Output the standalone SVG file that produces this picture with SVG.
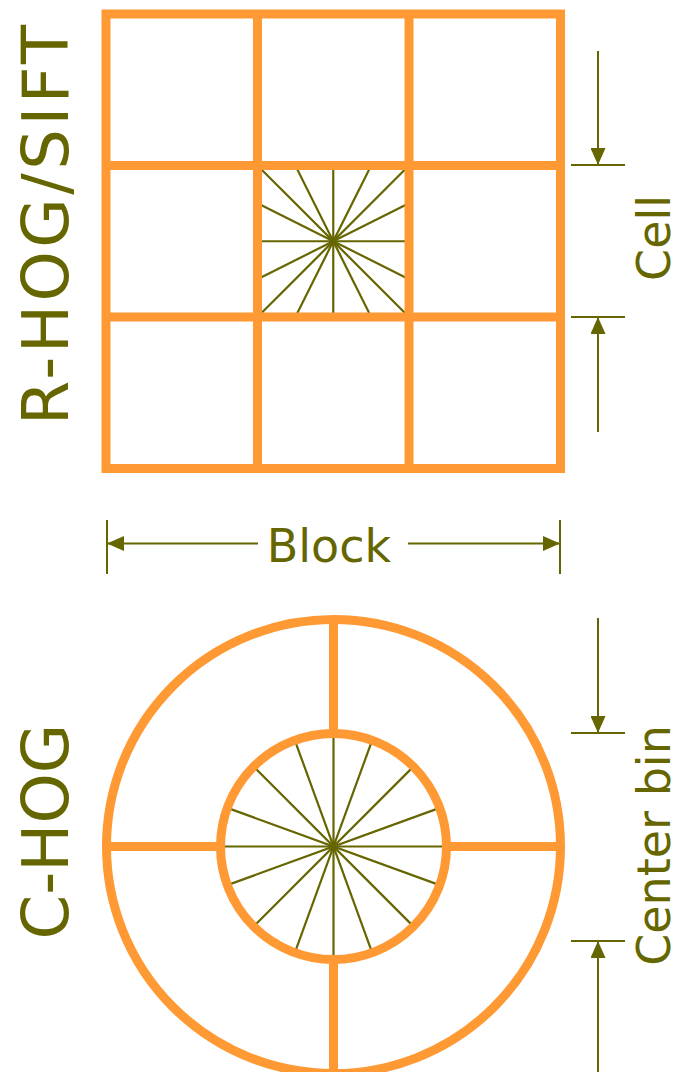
<svg xmlns="http://www.w3.org/2000/svg" width="674" height="1072" viewBox="0 0 674 1072">
  <style>
    .frame { fill: none; stroke: #FF9933; stroke-width: 9; }
    .spoke { stroke: #666600; stroke-width: 2.2; fill: none; }
    .dim { stroke: #666600; stroke-width: 2; fill: none; }
    .lbl { font-family: "DejaVu Sans", sans-serif; fill: #666600; }
  </style>
  <defs>
    <marker id="ah" markerUnits="userSpaceOnUse" markerWidth="17" markerHeight="15" refX="17" refY="7.5" orient="auto" viewBox="0 0 17 15">
      <path d="M0,0 L17,7.5 L0,15 z" fill="#666600"/>
    </marker>
  </defs>
  <rect width="674" height="1072" fill="#ffffff"/>

  <g id="rhog">
    <g id="rhog-spokes" transform="translate(333.25,241.25)">
      <line class="spoke" x1="0" y1="-75.75" x2="0" y2="75.75"/>
      <line class="spoke" x1="-75.75" y1="0" x2="75.75" y2="0"/>
      <line class="spoke" x1="-75.75" y1="-75.75" x2="75.75" y2="75.75"/>
      <line class="spoke" x1="75.75" y1="-75.75" x2="-75.75" y2="75.75"/>
      <line class="spoke" x1="-37.9" y1="-75.75" x2="37.9" y2="75.75"/>
      <line class="spoke" x1="37.9" y1="-75.75" x2="-37.9" y2="75.75"/>
      <line class="spoke" x1="-75.75" y1="-37.9" x2="75.75" y2="37.9"/>
      <line class="spoke" x1="75.75" y1="-37.9" x2="-75.75" y2="37.9"/>
    </g>
    <g id="rhog-grid">
      <rect class="frame" x="106" y="14" width="454.5" height="454.5"/>
      <line class="frame" x1="257.5" y1="14" x2="257.5" y2="468.5"/>
      <line class="frame" x1="409" y1="14" x2="409" y2="468.5"/>
      <line class="frame" x1="106" y1="165.5" x2="560.5" y2="165.5"/>
      <line class="frame" x1="106" y1="317" x2="560.5" y2="317"/>
    </g>
  </g>

  <g id="chog">
    <g id="chog-spokes" transform="translate(333.5,846.5)">
      <line class="spoke" x1="0" y1="-113" x2="0" y2="113"/>
      <line class="spoke" x1="-113" y1="0" x2="113" y2="0"/>
      <line class="spoke" x1="38.65" y1="-106.2" x2="-38.65" y2="106.2"/>
      <line class="spoke" x1="-38.65" y1="-106.2" x2="38.65" y2="106.2"/>
      <line class="spoke" x1="79.9" y1="-79.9" x2="-79.9" y2="79.9"/>
      <line class="spoke" x1="-79.9" y1="-79.9" x2="79.9" y2="79.9"/>
      <line class="spoke" x1="106.2" y1="-38.65" x2="-106.2" y2="38.65"/>
      <line class="spoke" x1="-106.2" y1="-38.65" x2="106.2" y2="38.65"/>
    </g>
    <g id="chog-rings">
      <circle class="frame" cx="333.5" cy="846.5" r="227"/>
      <circle class="frame" cx="333.5" cy="846.5" r="113"/>
      <line class="frame" x1="333.5" y1="619.5" x2="333.5" y2="733.5"/>
      <line class="frame" x1="333.5" y1="959.5" x2="333.5" y2="1073.5"/>
      <line class="frame" x1="106.5" y1="846.5" x2="220.5" y2="846.5"/>
      <line class="frame" x1="446.5" y1="846.5" x2="560.5" y2="846.5"/>
    </g>
  </g>

  <g id="connectors">
    <line class="dim" x1="598" y1="51" x2="598" y2="165" marker-end="url(#ah)"/>
    <line class="dim" x1="571" y1="165" x2="625" y2="165"/>
    <line class="dim" x1="598" y1="432" x2="598" y2="317" marker-end="url(#ah)"/>
    <line class="dim" x1="571" y1="317" x2="625" y2="317"/>

    <line class="dim" x1="258" y1="543.5" x2="107" y2="543.5" marker-end="url(#ah)"/>
    <line class="dim" x1="408" y1="543.5" x2="560" y2="543.5" marker-end="url(#ah)"/>
    <line class="dim" x1="107" y1="520" x2="107" y2="574"/>
    <line class="dim" x1="560" y1="520" x2="560" y2="574"/>

    <line class="dim" x1="598" y1="618" x2="598" y2="733" marker-end="url(#ah)"/>
    <line class="dim" x1="571" y1="733" x2="625" y2="733"/>
    <line class="dim" x1="598" y1="1072" x2="598" y2="941" marker-end="url(#ah)"/>
    <line class="dim" x1="571" y1="941" x2="625" y2="941"/>
  </g>

  <g id="labels">
    <text class="lbl" font-size="64" text-anchor="middle" transform="translate(68,225) rotate(-90)" textLength="400" lengthAdjust="spacing">R-HOG/SIFT</text>
    <text class="lbl" font-size="64" text-anchor="middle" transform="translate(68,831.5) rotate(-90)">C-HOG</text>
    <text class="lbl" font-size="46" text-anchor="middle" transform="translate(670,238) rotate(-90)">Cell</text>
    <text class="lbl" font-size="46" text-anchor="middle" x="329" y="561.5">Block</text>
    <text class="lbl" font-size="46" text-anchor="middle" transform="translate(670,845.5) rotate(-90)">Center bin</text>
  </g>
</svg>
